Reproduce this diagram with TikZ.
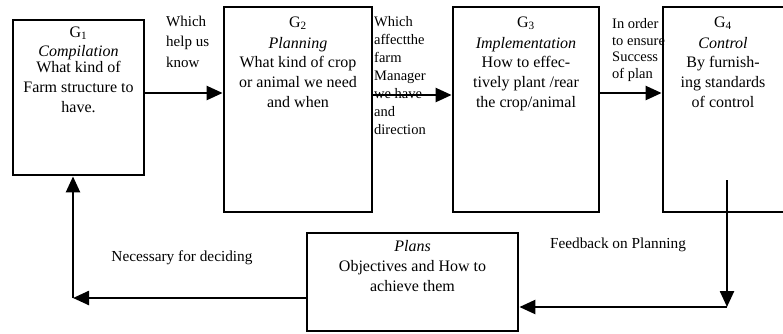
\documentclass[tikz,border=0pt]{standalone}
\usepackage{fontspec}
\setmainfont{Liberation Serif}
\usetikzlibrary{arrows.meta}

\tikzset{
  box/.style={draw, line width=2.8pt, inner sep=0pt, minimum width=#1},
  boxtext/.style={anchor=north, inner sep=0pt, align=center, font=\fontsize{16}{19.8}\selectfont},
  sidetext/.style={anchor=north west, inner sep=0pt, align=left},
  flowlabel/.style={inner sep=0pt, font=\fontsize{15.3}{18}\selectfont},
  arr/.style={line width=2.4pt, -{Triangle[length=16pt,width=14pt]}},
  plain/.style={line width=2.4pt}
}

\begin{document}
\begin{tikzpicture}[x=1pt, y=-1pt]
  \useasboundingbox (0,0) rectangle (783,333);
  \clip (0,0) rectangle (783,333);

  % the four stages
  \node[box=131pt, minimum height=155pt] (g1) at (78.5,97.5) {};
  \node[box=148pt, minimum height=205pt] (g2) at (298,109.5) {};
  \node[box=146pt, minimum height=205pt] (g3) at (526,109.5) {};
  \node[box=127pt, minimum height=205pt] (g4) at (726.5,109.5) {};
  % plans box
  \node[box=211pt, minimum height=98pt] (plans) at (412.5,282) {};

  % stage texts
  \node[boxtext] (t1) at (78.5,26.5) {G\textsubscript{1}\\[-1pt]\textit{Compilation}\\[-3pt]What kind of\\Farm structure to\\have.};
  \node[boxtext] (t2) at (298,16.5) {G\textsubscript{2}\\[1pt]\textit{Planning}\\What kind of crop\\or animal we need\\and when};
  \node[boxtext] (t3) at (526,16.5) {G\textsubscript{3}\\[1pt]\textit{Implementation}\\How to effec-\\tively plant /rear\\the crop/animal};
  \node[boxtext] (t4) at (723,16.5) {G\textsubscript{4}\\[1pt]\textit{Control}\\By furnish-\\ing standards\\of control};
  \node[boxtext] (tp) at (412.5,240.5) {\textit{Plans}\\Objectives and How to\\achieve them};

  % labels between the stages
  \node[sidetext, font=\fontsize{15}{20.5}\selectfont] (l1) at (166,15.5) {Which\\help us\\know};
  \node[sidetext, font=\fontsize{14.5}{18}\selectfont] (l2) at (374,16.5) {Which\\affectthe\\farm\\Manager\\we have\\and\\direction};
  \node[sidetext, font=\fontsize{14.5}{16.6}\selectfont] (l3) at (612,18.5) {In order\\to ensure\\Success\\of plan};

  % forward flow
  \draw[arr] (g1.east |- 0,93) -- (g2.west |- 0,93);
  \draw[arr] (g2.east |- 0,95) -- (g3.west |- 0,95);
  \draw[arr] (g3.east |- 0,93) -- (g4.west |- 0,93);

  % feedback loop
  \coordinate (fbtop) at (727,180);
  \coordinate (fbcorner) at (727,307);
  \coordinate (backcorner) at (73,298);
  \draw[arr] (fbtop) -- (fbcorner);
  \draw[arr] (fbcorner) -- (plans.east |- fbcorner);
  \draw[arr] (plans.west |- backcorner) -- (backcorner);
  \draw[arr] (backcorner) -- (backcorner |- g1.south);

  % loop labels
  \node[flowlabel] (nd) at (182,258) {Necessary for deciding};
  \node[flowlabel] (fb) at (618,245) {Feedback on Planning};
\end{tikzpicture}
\end{document}
